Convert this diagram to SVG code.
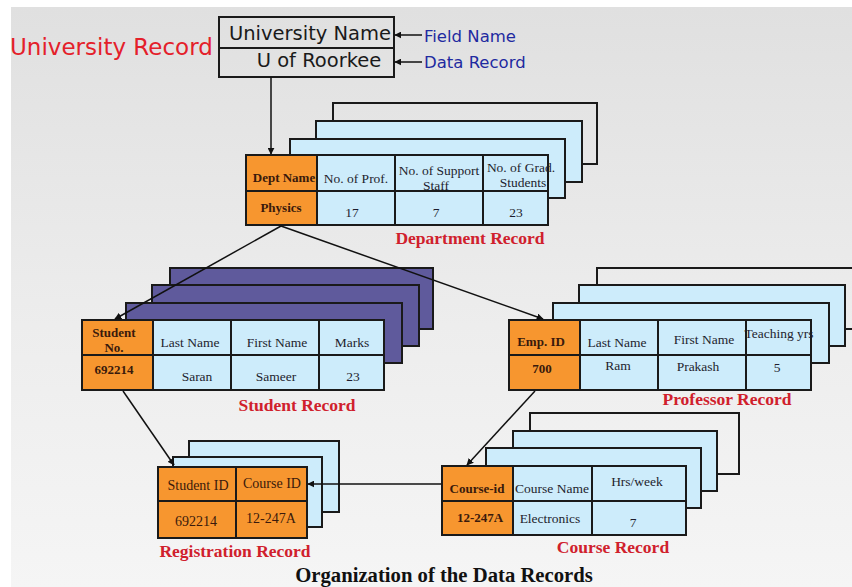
<svg xmlns="http://www.w3.org/2000/svg" width="852" height="587" viewBox="0 0 852 587">
  <defs>
    <linearGradient id="bg" x1="0" y1="0" x2="0" y2="1">
      <stop offset="0" stop-color="#e0e0e0"/>
      <stop offset="0.55" stop-color="#ededed"/>
      <stop offset="1" stop-color="#f5f5f5"/>
    </linearGradient>
    <marker id="arr" viewBox="0 0 10 10" refX="9" refY="5" markerWidth="7" markerHeight="7" markerUnits="userSpaceOnUse" orient="auto">
      <path d="M0,0 L10,5 L0,10 z" fill="#111"/>
    </marker>
  </defs>
  <style>
    .sheet { fill: #cdecfb; stroke: #1a1a1a; stroke-width: 2; }
    .blank { fill: none; stroke: #1a1a1a; stroke-width: 2; }
    .purple { fill: #5f5a9c; stroke: #1a1a1a; stroke-width: 2; }
    .key { fill: #f7962f; stroke: #1a1a1a; stroke-width: 2; }
    .cell { fill: #cdecfb; stroke: #1a1a1a; stroke-width: 2; }
    .grid { stroke: #1a1a1a; stroke-width: 2; fill: none; }
    .hand { font-family: "DejaVu Sans", "Open Sans", sans-serif; }
    .serif { font-family: "Liberation Serif", "Times New Roman", serif; }
    .kt { font-family: "Liberation Serif", serif; font-weight: bold; font-size: 13px; fill: #3a1a0c; text-anchor: middle; }
    .ot { font-family: "Liberation Serif", serif; font-size: 14px; fill: #3a1a0c; text-anchor: middle; }
    .bt { font-family: "Liberation Serif", serif; font-size: 13.5px; fill: #1e1e2e; text-anchor: middle; }
    .cap { font-family: "Liberation Serif", serif; font-weight: bold; font-size: 17.5px; fill: #d0202c; text-anchor: middle; }
    .wire { stroke: #111; stroke-width: 1.5; fill: none; }
  </style>

  <!-- page background -->
  <rect x="0" y="0" width="852" height="587" fill="#ffffff"/>
  <rect x="11" y="7" width="841" height="580" fill="url(#bg)"/>

  <!-- heading on the left -->
  <text class="hand" x="10" y="55" font-size="23" fill="#e4202a">University Record</text>

  <!-- university record -->
  <g id="university">
    <rect x="219" y="17" width="175" height="60" fill="none" stroke="#1a1a1a" stroke-width="2"/>
    <line x1="219" y1="48" x2="394" y2="48" stroke="#1a1a1a" stroke-width="2"/>
    <text class="hand" x="310" y="40" font-size="19.5" fill="#1a1a1a" text-anchor="middle">University Name</text>
    <text class="hand" x="319" y="67" font-size="19.5" fill="#1a1a1a" text-anchor="middle">U of Roorkee</text>
  </g>

  <g id="field-name-label">
    <text class="hand" x="424" y="42" font-size="16.5" fill="#1f2aa0">Field Name</text>
  </g>
  <g id="data-record-label">
    <text class="hand" x="424" y="68" font-size="16.5" fill="#1f2aa0">Data Record</text>
  </g>

  <!-- department record -->
  <g id="department">
    <rect class="blank" x="333" y="103" width="264" height="61"/>
    <rect class="sheet" x="316" y="121" width="266" height="61"/>
    <rect class="sheet" x="290" y="139" width="275" height="59"/>
    <rect class="key" x="246" y="155" width="71" height="70"/>
    <rect class="cell" x="317" y="155" width="231" height="70"/>
    <line class="grid" x1="246" y1="191" x2="549" y2="191"/>
    <line class="grid" x1="395" y1="155" x2="395" y2="225"/>
    <line class="grid" x1="483" y1="155" x2="483" y2="225"/>
    <text class="kt" x="284" y="182">Dept Name</text>
    <text class="kt" x="281" y="212">Physics</text>
    <text class="bt" x="356" y="183">No. of Prof.</text>
    <text class="bt" x="439" y="175" font-size="13">No. of Support</text>
    <text class="bt" x="436" y="190" font-size="13">Staff</text>
    <text class="bt" x="521" y="172" font-size="11">No. of Grad.</text>
    <text class="bt" x="523" y="187" font-size="11">Students</text>
    <text class="bt" x="352" y="217">17</text>
    <text class="bt" x="436" y="217">7</text>
    <text class="bt" x="516" y="217">23</text>
    <text class="cap" x="470" y="244">Department Record</text>
  </g>

  <!-- student record -->
  <g id="student">
    <rect class="purple" x="170" y="268" width="263" height="61"/>
    <rect class="purple" x="152" y="285" width="267" height="61"/>
    <rect class="purple" x="126" y="303" width="276" height="60"/>
    <rect class="key" x="82" y="320" width="71" height="70"/>
    <rect class="cell" x="153" y="320" width="231" height="70"/>
    <line class="grid" x1="82" y1="355" x2="385" y2="355"/>
    <line class="grid" x1="231" y1="320" x2="231" y2="390"/>
    <line class="grid" x1="319" y1="320" x2="319" y2="390"/>
    <text class="kt" x="114" y="337">Student</text>
    <text class="kt" x="114" y="352">No.</text>
    <text class="kt" x="114" y="374">692214</text>
    <text class="bt" x="190" y="347">Last Name</text>
    <text class="bt" x="277" y="347">First Name</text>
    <text class="bt" x="352" y="347">Marks</text>
    <text class="bt" x="197" y="381">Saran</text>
    <text class="bt" x="276" y="381">Sameer</text>
    <text class="bt" x="353" y="381">23</text>
    <text class="cap" x="297" y="411">Student Record</text>
  </g>

  <!-- professor record -->
  <g id="professor">
    <rect class="blank" x="597" y="268" width="262" height="61"/>
    <rect class="sheet" x="579" y="285" width="266" height="61"/>
    <rect class="sheet" x="553" y="303" width="276" height="60"/>
    <rect class="key" x="509" y="320" width="71" height="70"/>
    <rect class="cell" x="580" y="320" width="231" height="70"/>
    <line class="grid" x1="509" y1="355" x2="812" y2="355"/>
    <line class="grid" x1="658" y1="320" x2="658" y2="390"/>
    <line class="grid" x1="746" y1="320" x2="746" y2="390"/>
    <text class="kt" x="541" y="346">Emp. ID</text>
    <text class="kt" x="542" y="373">700</text>
    <text class="bt" x="617" y="347">Last Name</text>
    <text class="bt" x="704" y="344">First Name</text>
    <text class="bt" x="779" y="338" font-size="11.5">Teaching yrs</text>
    <text class="bt" x="618" y="370">Ram</text>
    <text class="bt" x="698" y="371">Prakash</text>
    <text class="bt" x="777" y="372">5</text>
    <text class="cap" x="727" y="405">Professor  Record</text>
  </g>

  <!-- registration record -->
  <g id="registration">
    <rect class="sheet" x="189" y="441" width="150" height="71"/>
    <rect class="sheet" x="173" y="457" width="149" height="70"/>
    <rect class="key" x="158" y="467" width="149" height="71"/>
    <line class="grid" x1="158" y1="501" x2="307" y2="501"/>
    <line class="grid" x1="236" y1="467" x2="236" y2="538"/>
    <text class="ot" x="198" y="490">Student ID</text>
    <text class="ot" x="272" y="488">Course ID</text>
    <text class="ot" x="196" y="526">692214</text>
    <text class="ot" x="271" y="523">12-247A</text>
    <text class="cap" x="235" y="557">Registration Record</text>
  </g>

  <!-- course record -->
  <g id="course">
    <rect class="blank" x="530" y="413" width="209" height="61"/>
    <rect class="sheet" x="513" y="431" width="204" height="60"/>
    <rect class="sheet" x="486" y="448" width="215" height="60"/>
    <rect class="key" x="442" y="466" width="71" height="69"/>
    <rect class="cell" x="513" y="466" width="173" height="69"/>
    <line class="grid" x1="442" y1="501" x2="687" y2="501"/>
    <line class="grid" x1="592" y1="466" x2="592" y2="535"/>
    <text class="kt" x="477" y="493">Course-id</text>
    <text class="kt" x="480" y="522">12-247A</text>
    <text class="bt" x="552" y="493">Course Name</text>
    <text class="bt" x="637" y="486">Hrs/week</text>
    <text class="bt" x="550" y="523">Electronics</text>
    <text class="bt" x="633" y="527">7</text>
    <text class="cap" x="613" y="553">Course  Record</text>
  </g>

  <!-- connectors -->
  <g id="connectors">
    <line class="wire" x1="422" y1="35" x2="395" y2="35" marker-end="url(#arr)"/>
    <line class="wire" x1="422" y1="62" x2="395" y2="62" marker-end="url(#arr)"/>
    <line class="wire" x1="271" y1="77" x2="271" y2="154" marker-end="url(#arr)"/>
    <line class="wire" x1="281" y1="226" x2="115" y2="319" marker-end="url(#arr)"/>
    <line class="wire" x1="281" y1="226" x2="543" y2="319" marker-end="url(#arr)"/>
    <line class="wire" x1="123" y1="391" x2="174" y2="465" marker-end="url(#arr)"/>
    <line class="wire" x1="535" y1="391" x2="467" y2="465" marker-end="url(#arr)"/>
    <line class="wire" x1="441" y1="484" x2="308" y2="484" marker-end="url(#arr)"/>
  </g>

  <!-- caption -->
  <text class="serif" x="444" y="582" font-size="20.7" font-weight="bold" fill="#111" text-anchor="middle">Organization of the Data Records</text>
</svg>
